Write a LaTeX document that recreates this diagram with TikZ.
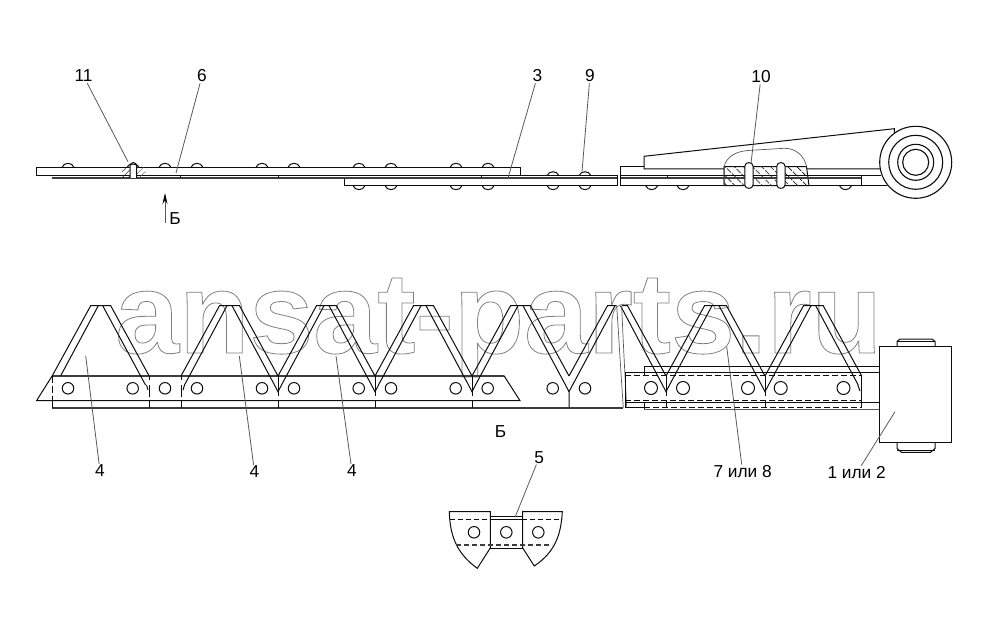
\documentclass[tikz,border=0pt]{standalone}
\usepackage{fontspec}
\setmainfont{Liberation Sans}
\usetikzlibrary{arrows.meta,patterns.meta}

\definecolor{dark}{gray}{0.05}
\definecolor{mid}{gray}{0.35}

% one tooth between feet #1 and #2
\newcommand{\tooth}[2]{
  \draw[main line] (#1,376) -- ({#1+38.5},305.7) -- ({#2-38.5},305.7) -- (#2,376);
  \draw[main line] ({#1+46},305.7) -- ({#1+3.5},385);
  \draw[main line] ({#2-46},305.7) -- ({#2-3.5},385);
}
% joint of two teeth on the bar
\newcommand{\joint}[1]{
  \draw[main line] (#1,376) -- (#1,396);
  \draw[main line] (#1,400) -- (#1,408);
  \draw[main line] ({#1-3.5},385) -- (#1,391.7) -- ({#1+3.5},385);
}
% rivet heads
\newcommand{\headup}[2]{
  \draw[main line] ({#1-6},#2) .. controls ({#1-4},{#2-5.3}) and ({#1+4},{#2-5.3}) .. ({#1+6},#2);
}
\newcommand{\headdown}[2]{
  \draw[main line] ({#1-6},#2) .. controls ({#1-4},{#2+5.3}) and ({#1+4},{#2+5.3}) .. ({#1+6},#2);
}

\begin{document}
\begin{tikzpicture}[x=1pt,y=-1pt,>={Stealth[length=11pt,width=5pt,black]},
  main line/.style={draw=dark,line width=1pt},
  heavy line/.style={draw=dark!80,line width=1.7pt},
  thin line/.style={draw=mid,line width=0.7pt},
  dash line/.style={draw=dark,line width=1pt,dash pattern=on 6pt off 3pt},
  hole/.style={circle,draw=dark,line width=1pt,inner sep=0pt,minimum size=11.5pt},
  ring/.style={circle,draw=dark,line width=1.1pt,inner sep=0pt,fill=white},
  leader/.style={draw=mid,line width=0.8pt},
  part label/.style={inner sep=1pt,font=\fontsize{17.3}{18}\selectfont}]

  \useasboundingbox (0,0) rectangle (1000,639);

  \node[anchor=base west,inner sep=0pt,font=\fontsize{115}{115}\selectfont\bfseries] (mark) at (115,353)
    {\special{pdf:code q 1 Tr 0.5 0.5 0.5 RG 0.8 w}ansat-parts.ru\special{pdf:code Q}};

  % top view, left strip
  \draw[main line] (520,175.5) -- (36,175.5) -- (36,167.3) -- (520,167.3) -- (520,175.5);
  \draw[main line] (520,175.7) -- (617,175.7) -- (617,185.7) -- (344,185.7) -- (344,178);
  \draw[heavy line] (52,178) -- (617,178);
  \draw[main line] (180.7,176) -- (180.7,178);
  \draw[main line] (278,176) -- (278,178);
  \draw[main line] (481,176) -- (481,178);
  \headup{68}{167.3} \headup{165}{167.3} \headup{197}{167.3} \headup{262}{167.3}
  \headup{294}{167.3} \headup{359}{167.3} \headup{391}{167.3} \headup{456}{167.3}
  \headup{488}{167.3} \headup{553}{175.7} \headup{585}{175.7}
  \headdown{359}{185.7} \headdown{391}{185.7} \headdown{456}{185.7}
  \headdown{488}{185.7} \headdown{553}{185.7} \headdown{585}{185.7}

  % rivet 11
  \path[pattern={Lines[angle=45,distance=4pt,line width=0.6pt]},pattern color=dark]
    (122,167.3) rectangle (130,178);
  \path[pattern={Lines[angle=45,distance=4pt,line width=0.6pt]},pattern color=mid]
    (137,167.3) -- (145,167.3) -- (146,178) -- (137,178) -- cycle;
  \draw[main line,fill=white] (130,178) -- (130,166) .. controls (130,161.5) and (136.7,161.5) .. (136.7,166) -- (136.7,178);
  \draw[main line] (127,167.3) .. controls (128,163) and (138,163) .. (139,167.3);

  % top view, right strip
  \draw[main line] (644,167) -- (620.7,167) -- (620.7,185.7) -- (887,185.7);
  \draw[main line] (620.7,175.2) -- (881,175.2);
  \draw[heavy line] (620.7,178) -- (861.7,178);
  \draw[main line] (861.7,175.2) -- (861.7,185.7);
  \draw[main line] (667,176) -- (667,178);
  \draw[main line] (880,169) -- (644,169) -- (644,156.3) -- (894.3,128.7) -- (894.3,136);
  \headdown{651.7}{185.7} \headdown{683}{185.7} \headdown{845.5}{185.7}

  % section of rivets 10
  \draw[main line,fill=white] (724,166.7) -- (806.5,166.7) -- (809,185.7) -- (724,185.7) -- cycle;
  \path[pattern={Lines[angle=135,distance=6.5pt,line width=0.8pt]},pattern color=dark]
    (724,166.7) -- (806.5,166.7) -- (809,185.7) -- (724,185.7) -- cycle;
  \draw[main line] (724,175.2) -- (808,175.2);
  \draw[heavy line] (724,178) -- (808.5,178);
  \draw[thin line] (724,186) -- (724,166.7) .. controls (727,156) and (736,151.5) .. (748,150.5)
    -- (784,148.3) .. controls (795,148) and (804,155) .. (806.7,166.7);
  \draw[main line,fill=white] (744.8,185) -- (744.8,166) .. controls (744.8,161.5) and (753,161.5) .. (753,166)
    -- (753,185) .. controls (753,189.5) and (744.8,189.5) .. (744.8,185) -- cycle;
  \draw[main line,fill=white] (776.8,185) -- (776.8,166) .. controls (776.8,161.5) and (785,161.5) .. (785,166)
    -- (785,185) .. controls (785,189.5) and (776.8,189.5) .. (776.8,185) -- cycle;

  % roller
  \node[ring,minimum size=72pt] (r1) at (915.7,162.3) {};
  \node[ring,minimum size=54pt] (r2) at (915.7,162.3) {};
  \node[ring,minimum size=36pt] (r3) at (915.7,162.3) {};
  \node[ring,minimum size=26pt] (r4) at (915.7,162.3) {};

  % view B, bar
  \draw[heavy line] (52.3,375.7) -- (504,375.7);
  \draw[main line] (52.3,375.7) -- (36.5,400.7) -- (520,400.7) -- (504,375.7);
  \draw[heavy line] (52.3,407.7) -- (623,407.7);
  \draw[main line,dash pattern=on 7pt off 3pt] (52.3,376) -- (52.3,400);
  \draw[main line] (52.3,400) -- (52.3,407.7);
  \draw[main line] (149,376) -- (149,380);
  \draw[main line] (149,385) -- (149,397);
  \draw[main line] (149,400) -- (149,408);
  \draw[main line] (181,376) -- (181,380);
  \draw[main line] (181,385) -- (181,397);
  \draw[main line] (181,400) -- (181,408);
  \draw[main line] (146.5,385) -- (148,390);
  \draw[main line] (184.5,385) -- (183,390);
  \joint{278} \joint{375} \joint{472}

  % teeth
  \draw[main line] (52.3,375.7) -- (90.7,305.7) -- (110.7,305.7) -- (149,375.7);
  \draw[main line] (98.3,305.7) -- (60.7,375.7);
  \draw[main line] (102.7,305.7) -- (145.5,385);
  \tooth{181}{278}
  \tooth{278}{375}
  \tooth{375}{472}
  \tooth{472}{569}
  \draw[main line] (565.5,385) -- (569,391.7);
  \draw[main line] (569,376) -- (607.5,305.7) -- (616.5,305.7);
  \draw[main line] (615,305.7) -- (569,391.7) -- (569,407.7);
  \draw[main line] (622,305.7) -- (627.5,305.7) -- (666,376);
  \draw[main line] (620.5,305.7) -- (662.5,385);
  \tooth{666}{765}
  \tooth{765}{861.7}

  % break
  \draw[thin line] (616.7,306) .. controls (619,340) and (621,375) .. (623.3,407.7);
  \draw[thin line] (621.7,306) .. controls (623,340) and (625,375) .. (626.7,407.7);

  % bar end with the knife
  \draw[main line] (644.3,375) -- (644.3,366.7) -- (880,366.7);
  \draw[main line] (880,372.7) -- (625,372.7) -- (625,407.5) -- (644.3,407.5);
  \draw[dash line] (625,375) -- (861.7,375);
  \draw[dash line] (625,400.7) -- (861.7,400.7);
  \draw[main line] (625,402.7) -- (880,402.7);
  \draw[dash line] (644.3,407.5) -- (861.7,407.5);
  \draw[thin line] (644.3,409.3) -- (880,409.3);
  \draw[main line] (644.3,402.7) -- (644.3,409);
  \draw[main line] (861.7,375) -- (861.7,408);
  \joint{666}
  \joint{765}
  \draw[main line] (857.8,385) -- (860,391);

  % holes of the bar
  \node[hole] (h1) at (68,388.3) {};
  \node[hole] (h2) at (132.7,388.3) {};
  \node[hole] (h3) at (165,388.3) {};
  \node[hole] (h4) at (197,388.3) {};
  \node[hole] (h5) at (262,388.3) {};
  \node[hole] (h6) at (294,388.3) {};
  \node[hole] (h7) at (358.7,388.3) {};
  \node[hole] (h8) at (391,388.3) {};
  \node[hole] (h9) at (455.7,388.3) {};
  \node[hole] (h10) at (487.7,388.3) {};
  \node[hole] (h11) at (552.7,388.3) {};
  \node[hole] (h12) at (585,388.3) {};
  \node[hole,minimum size=13pt] (h13) at (651,388) {};
  \node[hole,minimum size=13pt] (h14) at (683,388) {};
  \node[hole,minimum size=13pt] (h15) at (748,388) {};
  \node[hole,minimum size=13pt] (h16) at (780.7,388) {};
  \node[hole,minimum size=13pt] (h17) at (843.5,388) {};

  % eye
  \draw[main line] (897,346) -- (897,341.5) -- (900,339) -- (932,339) -- (935,341.5) -- (935,346);
  \draw[main line] (897,341.5) -- (935,341.5);
  \draw[main line] (897,443) -- (897,448.5) -- (901.5,452.3) -- (930.5,452.3) -- (935,448.5) -- (935,443);
  \draw[main line] (897,450) -- (935,450);
  \draw[main line,fill=white] (879.7,346) rectangle (951.7,442.8);

  % part 5
  \draw[main line] (490.3,516) rectangle (522.7,548.3);
  \draw[main line] (490.3,519) -- (522.7,519);
  \draw[main line] (490.3,548) -- (490.3,511.7) -- (449.3,511.7) .. controls (450,535) and (456,553) .. (477.3,568.3) -- (490.3,548);
  \draw[main line] (522.7,548) -- (522.7,511.7) -- (562.3,511.7) .. controls (561,535) and (555,552) .. (534.3,566) -- (522.7,548);
  \draw[main line,dash pattern=on 5pt off 3pt] (450,519.5) -- (562,519.5);
  \draw[heavy line,dash pattern=on 5pt off 3pt,line width=1.3pt] (456,545) -- (552,545);
  \node[hole] (h18) at (474,532.3) {};
  \node[hole] (h19) at (506.3,532.3) {};
  \node[hole] (h20) at (538.3,532.3) {};

  % labels
  \node[part label] (l11) at (83.5,76) {11};
  \node[part label] (l6) at (202,76) {6};
  \node[part label] (l3) at (537.5,76) {3};
  \node[part label] (l9) at (590,76) {9};
  \node[part label] (l10) at (761,77) {10};
  \node[part label] (lb1) at (175,219) {Б};
  \node[part label] (lb2) at (500.5,431.5) {Б};
  \node[part label] (l4a) at (100,471) {4};
  \node[part label] (l4b) at (254.5,472) {4};
  \node[part label] (l4c) at (352,471) {4};
  \node[part label] (l78) at (742.7,472) {7 или 8};
  \node[part label] (l12) at (856.7,473) {1 или 2};
  \node[part label] (l5) at (539.3,457.3) {5};

  \coordinate (c11) at (128,161.7);
  \coordinate (c6) at (176,173);
  \coordinate (c3) at (507.7,179);
  \coordinate (c9) at (582,171.7);
  \coordinate (c10) at (751,163.3);
  \coordinate (c4a) at (85.7,356);
  \coordinate (c4b) at (239.3,356);
  \coordinate (c4c) at (336,356);
  \coordinate (c78) at (726.7,346.7);
  \coordinate (c12) at (895,411.7);
  \coordinate (c5) at (515,517.3);
  \coordinate (b1) at (165,223);
  \coordinate (b2) at (165,193);

  \path[leader]
    (l11) edge (c11)
    (l6) edge (c6)
    (l3) edge (c3)
    (l9) edge (c9)
    (l10) edge (c10)
    (l4a) edge (c4a)
    (l4b) edge (c4b)
    (l4c) edge (c4c)
    (l78) edge (c78)
    (l12) edge (c12)
    (l5) edge (c5)
    ;
  \draw[leader,->] (b1) -- (b2);
\end{tikzpicture}
\end{document}
